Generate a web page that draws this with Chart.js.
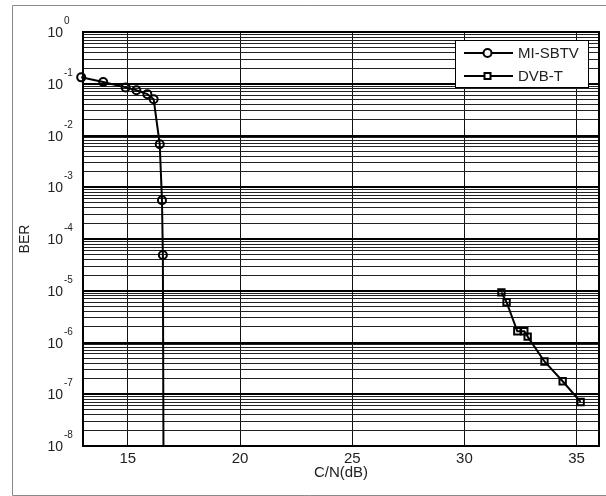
<!DOCTYPE html>
<html>
<head>
<meta charset="utf-8">
<script src="https://cdn.jsdelivr.net/npm/chart.js@4/dist/chart.umd.min.js"></script>
<style>
  body { margin: 0; background: #fff; }
  #wrap { width: 606px; height: 496px; }
</style>
</head>
<body>
<div id="wrap"><canvas id="berChart" width="606" height="496"></canvas></div>
<script>
// C/N in dB and BER
const miSbtvCN = [12.92, 13.9, 14.9, 15.38, 15.87, 16.15, 16.42, 16.52, 16.56, 16.6];
const miSbtvBER = [0.133, 0.108, 0.085, 0.075, 0.063, 0.050, 0.0068, 5.6e-4, 4.9e-5, 1e-10];

const dvbtCN = [31.65, 31.88, 32.36, 32.67, 32.82, 33.57, 34.38, 35.18];
const dvbtBER = [9.3e-6, 6.0e-6, 1.65e-6, 1.65e-6, 1.3e-6, 4.3e-7, 1.78e-7, 7.1e-8];

const xTicks = [15, 20, 25, 30, 35];
const yExponents = [0, -1, -2, -3, -4, -5, -6, -7, -8];
const yMinor = [2, 3, 4, 5, 6, 7, 8, 9];

const seriesNames = ['MI-SBTV', 'DVB-T'];

const FONT = '"Liberation Sans", Arial, sans-serif';

function toPoints(xs, ys) {
    return xs.map((x, i) => ({ x: x, y: ys[i] }));
}

function isDecade(v) {
    const e = Math.log10(v);
    return Math.abs(e - Math.round(e)) < 1e-9;
}

const decorPlugin = {
    id: 'decor',
    beforeDraw(chart) {
        const ctx = chart.ctx;
        ctx.save();
        ctx.fillStyle = '#fff';
        ctx.fillRect(0, 0, chart.width, chart.height);
        ctx.restore();
    },
    afterDraw(chart) {
        const ctx = chart.ctx;
        const a = chart.chartArea;
        const yScale = chart.scales.y;
        ctx.save();

        // plot frame
        ctx.strokeStyle = '#000';
        ctx.lineWidth = 2;
        ctx.strokeRect(a.left, a.top, a.right - a.left, a.bottom - a.top);

        // y labels as 10 with exponent
        ctx.fillStyle = '#222';
        yExponents.forEach(function (e) {
            const py = yScale.getPixelForValue(Math.pow(10, e));
            ctx.font = '14px ' + FONT;
            ctx.textAlign = 'right';
            ctx.textBaseline = 'alphabetic';
            ctx.fillText('10', 63, py + 5);
            ctx.font = '10px ' + FONT;
            ctx.textAlign = 'left';
            ctx.fillText(String(e), 64, py - 8);
        });

        // legend
        const lx = 455.5, ly = 40.5, lw = 133, lh = 47;
        ctx.fillStyle = '#fff';
        ctx.fillRect(lx, ly, lw, lh);
        ctx.strokeStyle = '#000';
        ctx.lineWidth = 1;
        ctx.strokeRect(lx, ly, lw, lh);

        const rows = [53, 76];
        rows.forEach(function (ry, i) {
            ctx.strokeStyle = '#000';
            ctx.lineWidth = 2;
            ctx.beginPath();
            ctx.moveTo(464, ry);
            ctx.lineTo(513, ry);
            ctx.stroke();
            ctx.fillStyle = '#fff';
            ctx.beginPath();
            if (i === 0) {
                ctx.arc(487.5, ry, 4, 0, Math.PI * 2);
            } else {
                ctx.rect(484.5, ry - 3, 6, 6);
            }
            ctx.fill();
            ctx.stroke();
            ctx.fillStyle = '#222';
            ctx.font = '15px ' + FONT;
            ctx.textAlign = 'left';
            ctx.textBaseline = 'middle';
            ctx.fillText(seriesNames[i], 518, ry + 0.5);
        });

        // outer frame
        ctx.strokeStyle = '#8a8a8a';
        ctx.lineWidth = 1;
        ctx.beginPath();
        ctx.moveTo(chart.width + 2, 5.5);
        ctx.lineTo(12.5, 5.5);
        ctx.lineTo(12.5, 495.5);
        ctx.lineTo(chart.width + 2, 495.5);
        ctx.stroke();

        ctx.restore();
    }
};

const ctx = document.getElementById('berChart').getContext('2d');
const berChart = new Chart(ctx, {
    type: 'line',
    data: {
        datasets: [
            {
                label: seriesNames[0],
                data: toPoints(miSbtvCN, miSbtvBER),
                borderColor: '#000',
                borderWidth: 2,
                pointStyle: 'circle',
                pointRadius: 4,
                pointBorderWidth: 2,
                pointBorderColor: '#000',
                pointBackgroundColor: 'rgba(0,0,0,0)',
                tension: 0,
                clip: { left: 10, top: 10, right: 10, bottom: 0 }
            },
            {
                label: seriesNames[1],
                data: toPoints(dvbtCN, dvbtBER),
                borderColor: '#000',
                borderWidth: 2,
                pointStyle: 'rect',
                pointRadius: 4.5,
                pointBorderWidth: 2,
                pointBorderColor: '#000',
                pointBackgroundColor: 'rgba(0,0,0,0)',
                tension: 0,
                clip: { left: 10, top: 10, right: 10, bottom: 0 }
            }
        ]
    },
    options: {
        responsive: false,
        animation: false,
        layout: {
            padding: { left: 0, top: 32, right: 7, bottom: 14 }
        },
        scales: {
            x: {
                type: 'linear',
                min: 13,
                max: 36,
                afterBuildTicks: function (scale) {
                    scale.ticks = xTicks.map(v => ({ value: v }));
                },
                afterFit: function (scale) {
                    scale.height = 36;
                },
                grid: {
                    color: '#111',
                    lineWidth: 1,
                    drawTicks: false
                },
                border: { display: false },
                ticks: {
                    padding: 4,
                    color: '#222',
                    font: { family: FONT, size: 15 },
                    maxRotation: 0
                },
                title: {
                    display: true,
                    text: 'C/N(dB)',
                    color: '#222',
                    padding: { top: 0, bottom: 0 },
                    font: { family: FONT, size: 15 }
                }
            },
            y: {
                type: 'logarithmic',
                min: 1e-8,
                max: 1,
                afterBuildTicks: function (scale) {
                    const ticks = [];
                    yExponents.forEach(function (e) {
                        ticks.push({ value: Math.pow(10, e) });
                        if (e > yExponents[yExponents.length - 1]) {
                            yMinor.forEach(m => ticks.push({ value: m * Math.pow(10, e - 1) }));
                        }
                    });
                    scale.ticks = ticks;
                },
                afterFit: function (scale) {
                    scale.width = 83;
                },
                grid: {
                    color: function (c) {
                        return isDecade(c.tick.value) ? '#000' : '#222';
                    },
                    lineWidth: function (c) {
                        return isDecade(c.tick.value) ? 2 : 1;
                    },
                    drawTicks: false
                },
                border: { display: false },
                ticks: { display: false },
                title: {
                    display: true,
                    text: 'BER',
                    color: '#222',
                    padding: { top: 16.6, bottom: 0 },
                    font: { family: FONT, size: 14 }
                }
            }
        },
        plugins: {
            legend: { display: false },
            tooltip: { enabled: false }
        }
    },
    plugins: [decorPlugin]
});
</script>
</body>
</html>
